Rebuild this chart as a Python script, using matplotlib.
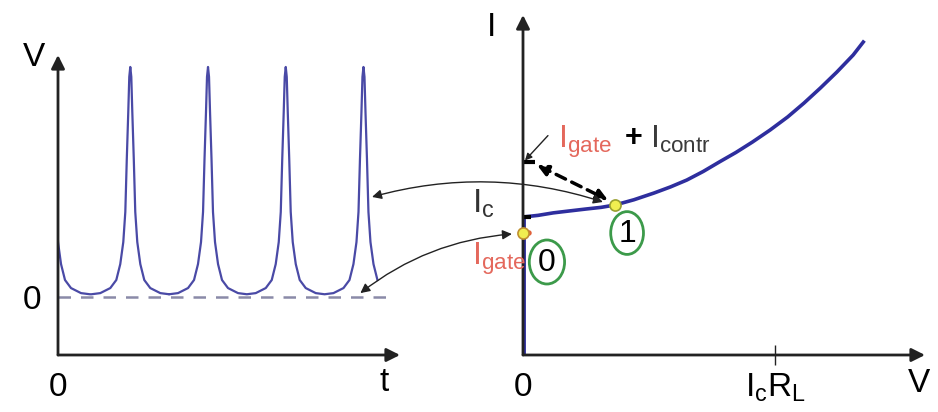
import matplotlib
matplotlib.use("Agg")
import matplotlib.pyplot as plt
from matplotlib.patches import Ellipse, ConnectionPatch

plt.rcParams['font.family'] = ['Liberation Sans', 'DejaVu Sans']

# --- voltage pulses V(t): t in oscillation periods, V relative to peak height
pulse_dt = [0.0, 0.013, 0.026, 0.045, 0.064, 0.09, 0.129, 0.18, 0.257, 0.386, 0.5]
pulse_v = [1.0, 0.957, 0.804, 0.6, 0.37, 0.239, 0.143, 0.074, 0.039, 0.017, 0.012]
peak_t = [-0.09, 0.93, 1.93, 2.93, 3.93]
t_end = 4.11
zero_end = 4.23

# --- I-V characteristic: V in units of Ic*RL, I in units of Ic
iv_v = [0, 0.06, 0.12, 0.18, 0.25, 0.31, 0.365, 0.44, 0.52, 0.585, 0.65,
        0.715, 0.78, 0.845, 0.91, 0.98, 1.05, 1.115, 1.18, 1.245, 1.31, 1.35]
iv_i = [1.0, 1.012, 1.03, 1.043, 1.058, 1.07, 1.087, 1.125, 1.174, 1.218, 1.268,
        1.33, 1.40, 1.468, 1.543, 1.63, 1.725, 1.826, 1.935, 2.05, 2.174, 2.268]
i_c = 1.0
i_gate = 0.884
i_gate_contr = 1.40
state1 = (0.365, 1.087)

RED = '#e4685c'
BLUE = '#2e2e9e'
AX_COL = '#222222'
GREEN = '#3c9a4a'
FS = 24

fig = plt.figure(figsize=(9.38, 4.12), dpi=100)
W, H = 938.0, 412.0
ax1 = fig.add_axes([58 / W, 57 / H, 342 / W, 300 / H])
ax2 = fig.add_axes([523 / W, 57 / H, 402 / W, 340 / H])

for ax in (ax1, ax2):
    ax.patch.set_visible(False)
    for s in ax.spines.values():
        s.set_visible(False)
    for xy in [(1, 0), (0, 1)]:
        ax.annotate('', xy=xy, xytext=(0, 0), xycoords='axes fraction',
                    textcoords='axes fraction',
                    arrowprops=dict(arrowstyle='-|>', lw=2, color=AX_COL,
                                    mutation_scale=20, shrinkA=0, shrinkB=0))

# ---------------- left panel: V(t)
ts, vs = [], []
for p in peak_t:
    seg_t = [p - d for d in pulse_dt[:0:-1]] + [p + d for d in pulse_dt]
    seg_v = pulse_v[:0:-1] + pulse_v
    for t, v in zip(seg_t, seg_v):
        if t <= t_end:
            ts.append(t)
            vs.append(v)

ax1.set_xlim(0, 4.40)
ax1.set_ylim(-0.252, 1.052)
ax1.plot(ts, vs, color='#4a4aa6', lw=1.6, solid_joinstyle='round')
ax1.plot([0, zero_end], [0, 0], color='#8a8aa8', lw=1.8, dashes=(5, 4))
ax1.set_xticks([0])
ax1.set_yticks([0])
ax1.tick_params(length=0, labelsize=FS, pad=12)
ax1.text(-0.31, 1.04, 'V', fontsize=FS, ha='center', va='center')
ax1.text(4.19, -0.37, 't', fontsize=FS, ha='center', va='center')

# ---------------- right panel: I-V curve
ax2.set_xlim(0, 1.595)
ax2.set_ylim(0, 2.464)
ax2.plot([0, 0], [0, i_c], color=BLUE, lw=3.5, solid_capstyle='butt')
ax2.plot(iv_v, iv_i, color=BLUE, lw=2.6, solid_joinstyle='round')

ax2.set_xticks([0, 1])
ax2.set_xticklabels(['0', r'$\mathregular{I_cR_L}$'])
ax2.set_yticks([])
ax2.tick_params(axis='x', direction='inout', length=14, width=1,
                color=AX_COL, labelsize=FS, pad=5)
ax2.xaxis.get_major_ticks()[0].tick1line.set_visible(False)

# current level marks on the I axis
ax2.plot([-0.027, 0.03], [i_c, i_c], color='black', lw=3, solid_capstyle='butt')
ax2.plot([-0.027, 0.048], [i_gate_contr, i_gate_contr], color='black', lw=3,
         solid_capstyle='butt')

ax2.text(-0.123, 2.37, 'I', fontsize=FS, ha='center', va='center')
ax2.text(1.571, -0.21, 'V', fontsize=FS, ha='center', va='center')
ax2.text(-0.202, 1.029, r'$\mathregular{I_c}$', fontsize=FS, color='#333333',
         ha='left', va='baseline')
ax2.text(-0.202, 0.655, r'$\mathregular{I_{gate}}$', fontsize=23, color=RED,
         ha='left', va='baseline')
ax2.text(0.139, 1.50, r'$\mathregular{I_{gate}}$', fontsize=23, color=RED,
         ha='left', va='baseline')
ax2.text(0.437, 1.572, '+', fontsize=22, fontweight='bold', ha='center',
         va='center')
ax2.text(0.504, 1.50, r'$\mathregular{I_{contr}}$', fontsize=23, color='#3a3a3a',
         ha='left', va='baseline')

# working points 0 and 1
ax2.plot([-0.025, 0.025], [i_gate, i_gate], color='#e0603a', lw=4,
         solid_capstyle='round', zorder=4)
ax2.plot([0], [i_gate], 'o', ms=8, mfc='#f0ee50', mec='#c09030', mew=1.2,
         zorder=5, clip_on=False)
ax2.plot([state1[0]], [state1[1]], 'o', ms=8, mfc='#f0ee50', mec='#9aa030',
         mew=1.2, zorder=5)

for (cx, cy, w, h, lab) in [(0.095, 0.674, 0.14, 0.319, '0'),
                            (0.413, 0.884, 0.13, 0.31, '1')]:
    ax2.add_patch(Ellipse((cx, cy), w, h, fill=False, ec=GREEN, lw=2))
    ax2.text(cx, cy - 0.01, lab, fontsize=23, ha='center', va='center')

# pointer to the Igate + Icontr level
ax2.annotate('', xy=(0.008, i_gate_contr + 0.01), xytext=(0.099, 1.59),
             arrowprops=dict(arrowstyle='-|>', lw=1, color=AX_COL,
                             mutation_scale=10, shrinkA=0, shrinkB=0))
# dashed switch between the level mark and point 1
ax2.annotate('', xy=(0.337, 1.123), xytext=(0.056, 1.377),
             arrowprops=dict(arrowstyle='<|-|>', lw=2.5, color='black',
                             linestyle=(0, (3, 2)), mutation_scale=16,
                             shrinkA=0, shrinkB=0))

# links between the two panels
con1 = ConnectionPatch(xyA=(0.317, 1.109), coordsA=ax2.transData,
                       xyB=(4.04, 0.435), coordsB=ax1.transData,
                       arrowstyle='<|-|>', connectionstyle='arc3,rad=0.15',
                       mutation_scale=14, lw=1, color=AX_COL,
                       shrinkA=0, shrinkB=0)
con2 = ConnectionPatch(xyA=(-0.044, 0.877), coordsA=ax2.transData,
                       xyB=(3.89, 0.017), coordsB=ax1.transData,
                       arrowstyle='<|-|>', connectionstyle='arc3,rad=0.15',
                       mutation_scale=14, lw=1, color=AX_COL,
                       shrinkA=0, shrinkB=0)
fig.add_artist(con1)
fig.add_artist(con2)

fig.savefig('out.png', dpi=100)
